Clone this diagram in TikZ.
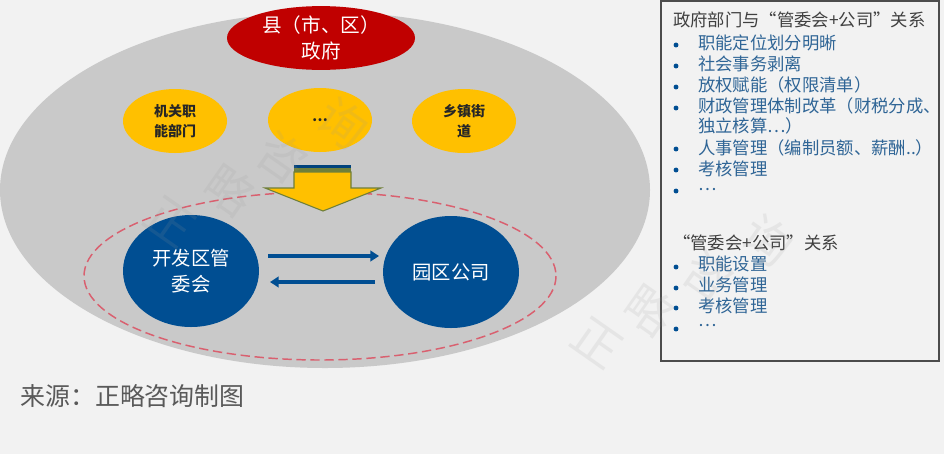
\documentclass[tikz,border=0pt]{standalone}
\usepackage{fontspec}
\setmainfont{Noto Sans CJK SC}
\usetikzlibrary{arrows.meta,shapes.geometric}
\definecolor{bgc}{HTML}{F2F2F2}
\definecolor{greyc}{HTML}{C9C9C9}
\definecolor{redc}{HTML}{C00000}
\definecolor{goldc}{HTML}{FFC000}
\definecolor{bluec}{HTML}{004E92}
\definecolor{listc}{HTML}{2F6596}
\definecolor{txtc}{HTML}{404040}
\definecolor{dashc}{HTML}{D9606F}
\definecolor{olivec}{HTML}{6F7F3A}
\tikzset{
  goldnode/.style={ellipse,fill=goldc,minimum width=78pt,minimum height=48pt,inner sep=0pt,align=center,text=black!85,font=\bfseries\fontsize{10.5}{15}\selectfont},
  bluenode/.style={ellipse,fill=bluec,minimum width=102pt,minimum height=84pt,inner sep=0pt,align=center,text=white,font=\fontsize{14.5}{20}\selectfont},
  flowarrow/.style={draw=bluec,line width=2.4pt,-{Triangle[length=6.5pt,width=8pt]}},
  listtext/.style={anchor=west,inner sep=0pt,text=listc,font=\fontsize{13}{15.5}\selectfont},
  bulletdot/.style={circle,fill=bluec,minimum size=3.7pt,inner sep=0pt},
  headtext/.style={anchor=west,inner sep=0pt,text=txtc,font=\fontsize{13}{15}\selectfont},
  wmark/.style={text=black!40,opacity=0.14,font=\fontsize{36}{36}\selectfont,inner sep=0pt,rotate=-35},
}
\begin{document}
\begin{tikzpicture}[x=0.75pt,y=-0.75pt]
\useasboundingbox (0,0) rectangle (944,454);
\fill[bgc] (0,0) rectangle (944,454);
\node[ellipse,fill=greyc,minimum width=487.5pt,minimum height=267pt,inner sep=0pt] (outer) at (325,190) {};
\node[ellipse,fill=redc,minimum width=141pt,minimum height=46.5pt,inner sep=0pt,align=center,text=white,font=\fontsize{14.7}{20}\selectfont] (gov) at (321,38) {县（市、区）\\政府};
\node[goldnode] (g1) at (175,121) {机关职\\能部门};
\node[goldnode] (g2) at (320,120) {…};
\node[goldnode] (g3) at (464,121) {乡镇街\\道};
\draw[draw=dashc,line width=1.1pt,dash pattern=on 7pt off 3.5pt] (320,276) ellipse [x radius=236,y radius=84];
\fill[bluec!85!black] (294,165) rectangle (351,168);
\fill[olivec] (294,168) rectangle (351,172);
\path[fill=goldc,draw=olivec,line width=0.8pt] (294,172) -- (351,172) -- (351,188) -- (381,188) -- (323,211) -- (265,188) -- (294,188) -- cycle;
\node[bluenode] (a) at (191,271) {开发区管\\委会};
\node[bluenode] (b) at (451,272) {园区公司};
\coordinate (a1) at (268,256); \coordinate (b1) at (379,256);
\coordinate (a2) at (270,282); \coordinate (b2) at (375,282);
\draw[flowarrow] (a1) -- (b1);
\draw[flowarrow] (b2) -- (a2);
\draw[draw=black!70,line width=1pt] (661,1) rectangle (939,361);
\node[headtext] (h1) at (673,20) {政府部门与“管委会+公司”关系};
\foreach \t/\yy [count=\i] in {职能定位划分明晰/43,社会事务剥离/64,放权赋能（权限清单）/85,财政管理体制改革（财税分成、/106,人事管理（编制员额、薪酬..）/148,考核管理/169,…/190}
  \node[listtext] (l\i) at (698,\yy) {\t};
\node[listtext] (lx) at (698,126) {独立核算…）};
\foreach \yy [count=\i] in {45,66,87,108,149,170,191}
  \node[bulletdot] (d\i) at (676,\yy) {};
\node[headtext] (h2) at (673,243) {“管委会+公司”关系};
\foreach \t/\yy [count=\i] in {职能设置/264,业务管理/285,考核管理/306,…/326}
  \node[listtext] (m\i) at (698,\yy) {\t};
\foreach \yy [count=\i] in {267,288,308,329}
  \node[bulletdot] (e\i) at (676,\yy) {};
\node[anchor=west,inner sep=0pt,text=black!65,font=\fontsize{18.7}{20}\selectfont] (src) at (20,396) {来源：正略咨询制图};
% watermarks
\foreach \t/\xx/\yy [count=\i] in {正/170/222,略/230/190,咨/282/157,询/343/123}
  \node[wmark] (wa\i) at (\xx,\yy) {\t};
\foreach \t/\xx/\yy [count=\i] in {正/597/343,略/650/310,咨/708/275,询/768/240}
  \node[wmark] (wb\i) at (\xx,\yy) {\t};
\end{tikzpicture}
\end{document}
